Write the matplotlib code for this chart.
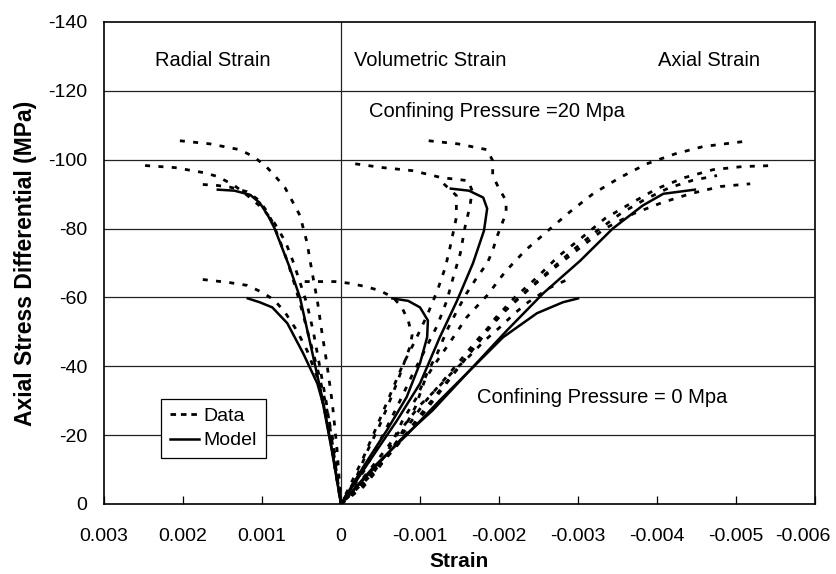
import numpy as np
import matplotlib
matplotlib.use('agg')
import matplotlib.pyplot as plt
from matplotlib.lines import Line2D
from matplotlib.ticker import FuncFormatter
from matplotlib.transforms import ScaledTranslation

plt.rcParams['font.family'] = ['Liberation Sans', 'DejaVu Sans']
plt.rcParams['axes.unicode_minus'] = False
plt.rcParams['lines.scale_dashes'] = False

# strain values in units of 1e-3, stress in MPa (compression negative)

# --- model curves ---
model_rad20_eps = [1.56, 1.35, 1.15, 1.03, 0.93, 0.84, 0.65, 0.52, 0.37, 0.23, 0.10, 0.0]
model_rad20_sig = [-91.3, -91.0, -89.8, -87.5, -84.0, -80.0, -68.7, -60.0, -44.6, -30.1, -14.0, 0.0]
model_rad0_eps = [1.18, 1.03, 0.87, 0.68, 0.48, 0.30, 0.23, 0.12, 0.0]
model_rad0_sig = [-59.7, -58.6, -57.1, -52.5, -43.8, -35.0, -29.3, -16.0, 0.0]
model_vol20_eps = [-1.39, -1.62, -1.80, -1.85, -1.81, -1.67, -1.47, -1.25, -1.00, -0.71, -0.37, 0.0]
model_vol20_sig = [-91.6, -91.0, -89.0, -85.8, -79.4, -69.9, -59.1, -48.4, -35.0, -24.3, -12.8, 0.0]
model_vol0_eps = [-0.65, -0.85, -1.00, -1.10, -1.09, -1.00, -0.83, -0.58, -0.28, 0.0]
model_vol0_sig = [-59.7, -59.0, -57.1, -53.3, -48.4, -40.9, -31.0, -21.4, -10.7, 0.0]
model_ax20_eps = [-4.48, -4.08, -3.82, -3.44, -3.03, -2.56, -2.10, -1.63, -1.16, -0.75, 0.0]
model_ax20_sig = [-91.3, -90.1, -86.7, -80.0, -70.7, -61.2, -50.4, -38.8, -27.2, -18.6, 0.0]
model_ax0_eps = [-3.00, -2.81, -2.48, -2.05, -1.67, -1.25, -0.83, -0.41, 0.0]
model_ax0_sig = [-59.7, -58.6, -55.4, -48.4, -39.7, -30.1, -20.0, -10.7, 0.0]

# --- test data, confining pressure 20 MPa ---
rad1_eps = [2.04, 1.66, 1.28, 1.11, 0.96, 0.84, 0.71, 0.62, 0.52, 0.43, 0.37, 0.30, 0.24, 0.18, 0.11, 0.05, 0.0]
rad1_sig = [-105.5, -104.6, -102.9, -100.9, -98.3, -95.4, -91.9, -88.1, -83.8, -75.9, -67.8, -59.1, -49.6, -40.9, -29.3, -15.7, 0.0]
rad2_eps = [2.48, 2.10, 1.73, 1.56, 1.35, 1.18, 1.00, 0.84, 0.70, 0.60, 0.50, 0.43, 0.35, 0.27, 0.19, 0.10, 0.0]
rad2_sig = [-98.3, -97.7, -96.2, -95.1, -92.5, -89.5, -86.0, -81.5, -76.0, -70.0, -63.0, -58.0, -50.0, -40.0, -30.0, -16.0, 0.0]
rad3_eps = [1.75, 1.56, 1.40, 1.19, 1.05, 0.96, 0.87, 0.77, 0.67, 0.58, 0.49, 0.39, 0.29, 0.20, 0.10, 0.0]
rad3_sig = [-92.8, -92.5, -92.0, -90.7, -88.4, -85.7, -82.0, -76.2, -69.9, -63.2, -55.9, -47.2, -38.5, -29.8, -18.3, 0.0]

vol1_eps = [-1.11, -1.48, -1.85, -1.92, -1.92, -2.00, -2.09, -2.09, -2.03, -1.97, -1.92, -1.85, -1.72, -1.59,
            -1.47, -1.34, -1.22, -1.09, -0.96, -0.78, -0.62, -0.41, 0.0]
vol1_sig = [-105.5, -104.6, -102.9, -99.7, -95.4, -91.6, -88.1, -84.6, -80.9, -77.4, -73.6, -69.9, -65.8, -61.2,
            -56.2, -50.4, -43.8, -38.0, -31.0, -24.3, -16.5, -9.0, 0.0]
vol2_eps = [-0.18, -0.53, -0.91, -1.27, -1.61, -1.66, -1.63, -1.58, -1.51, -1.42, -1.34, -1.22, -1.06, -0.90,
            -0.72, -0.53, -0.30, 0.0]
vol2_sig = [-98.8, -97.7, -96.8, -94.8, -93.9, -91.0, -86.1, -81.7, -72.8, -65.8, -59.1, -51.9, -44.6, -37.4,
            -28.7, -20.0, -9.9, 0.0]
vol3_eps = [-1.30, -1.46, -1.46, -1.38, -1.32, -1.22, -1.09, -0.94, -0.78, -0.62, -0.46, -0.27, 0.0]
vol3_sig = [-93.0, -89.6, -83.2, -74.5, -68.7, -62.0, -54.8, -47.5, -40.3, -31.6, -22.9, -12.8, 0.0]

ax1_eps = [0.0, -0.28, -0.46, -0.72, -0.94, -1.06, -1.16, -1.38, -1.59, -1.85, -2.08, -2.33, -2.62, -2.90,
           -3.19, -3.53, -3.87, -4.23, -4.58, -4.96, -5.18]
ax1_sig = [0.0, -4.9, -9.9, -18.6, -28.1, -35.9, -39.7, -47.0, -54.2, -60.6, -67.5, -73.6, -79.4, -84.9,
           -90.1, -94.8, -98.8, -101.7, -103.8, -104.9, -105.5]
ax2_eps = [0.0, -0.28, -0.52, -0.77, -1.00, -1.25, -1.51, -1.76, -1.95, -2.20, -2.48, -2.75, -3.05, -3.34,
           -3.66, -4.00, -4.35, -4.71, -5.08, -5.47]
ax2_sig = [0.0, -5.5, -11.9, -18.6, -25.8, -33.0, -40.3, -47.5, -53.9, -60.0, -65.8, -71.9, -77.4, -82.9,
           -87.2, -91.6, -94.8, -97.1, -98.0, -98.3]
ax3_eps = [0.0, -0.27, -0.56, -0.81, -1.06, -1.32, -1.51, -1.70, -1.89, -2.08, -2.39, -2.71, -3.03, -3.34,
           -3.70, -4.06, -4.42, -4.80, -5.18]
ax3_sig = [0.0, -5.5, -13.3, -21.4, -29.6, -36.5, -41.7, -47.0, -51.9, -56.2, -62.6, -68.7, -74.5, -80.0,
           -84.3, -87.5, -90.1, -92.2, -93.0]
ax4_eps = [0.0, -0.30, -0.55, -0.80, -1.05, -1.30, -1.55, -1.80, -2.05, -2.35, -2.65, -2.95, -3.25, -3.55,
           -3.85, -4.15, -4.45, -4.76]
ax4_sig = [0.0, -6.5, -13.0, -19.5, -26.5, -34.0, -41.5, -49.0, -55.5, -62.0, -68.0, -74.0, -79.5, -84.5,
           -88.5, -91.8, -94.0, -95.4]

# --- test data, confining pressure 0 MPa ---
rad0_eps = [1.75, 1.41, 1.19, 0.99, 0.84, 0.71, 0.56, 0.43, 0.30, 0.23, 0.14, 0.08, 0.0]
rad0_sig = [-65.2, -64.3, -63.5, -61.4, -59.1, -55.7, -50.4, -44.6, -36.8, -29.3, -20.6, -10.7, 0.0]
vol0_eps = [0.46, 0.27, 0.08, -0.11, -0.30, -0.49, -0.66, -0.77, -0.85, -0.90, -0.87, -0.81, -0.72, -0.62,
            -0.49, -0.34, -0.19, 0.0]
vol0_sig = [-64.6, -64.6, -64.6, -64.1, -63.2, -62.0, -60.0, -57.1, -53.3, -49.0, -45.5, -41.7, -35.9, -30.1,
            -22.9, -15.7, -7.5, 0.0]
ax0_eps = [-2.84, -2.65, -2.35, -2.20, -2.01, -1.82, -1.61, -1.41, -1.22, -1.00, -0.75, -0.49, -0.24, 0.0]
ax0_sig = [-64.9, -62.9, -58.3, -55.4, -51.3, -47.5, -42.6, -38.3, -33.6, -28.7, -21.4, -13.6, -6.4, 0.0]

data_curves = [(rad1_eps, rad1_sig), (rad2_eps, rad2_sig), (rad3_eps, rad3_sig),
               (vol1_eps, vol1_sig), (vol2_eps, vol2_sig), (vol3_eps, vol3_sig),
               (ax1_eps, ax1_sig), (ax2_eps, ax2_sig), (ax3_eps, ax3_sig), (ax4_eps, ax4_sig),
               (rad0_eps, rad0_sig), (vol0_eps, vol0_sig), (ax0_eps, ax0_sig)]
model_curves = [(model_rad20_eps, model_rad20_sig), (model_rad0_eps, model_rad0_sig),
                (model_vol20_eps, model_vol20_sig), (model_vol0_eps, model_vol0_sig),
                (model_ax20_eps, model_ax20_sig), (model_ax0_eps, model_ax0_sig)]

fig = plt.figure(figsize=(8.37, 5.74), dpi=100)
ax = fig.add_axes([0.1243, 0.122, 0.8494, 0.8397])

for yv in range(-20, -140, -20):
    ax.axhline(yv, color='#222222', lw=0.9, zorder=1)
ax.axvline(0, color='#222222', lw=0.9, zorder=1)

for e, s in data_curves:
    ax.plot(np.array(e) * 1e-3, s, color='black', lw=2.0, dashes=(3.6, 6.0), zorder=3)
for e, s in model_curves:
    ax.plot(np.array(e) * 1e-3, s, color='black', lw=1.8, zorder=4)

ax.set_xlim(0.003, -0.006)
ax.set_ylim(0, -140)
ax.set_xticks(np.linspace(0.003, -0.006, 10))
ax.set_yticks(range(0, -160, -20))
ax.xaxis.set_major_formatter(FuncFormatter(lambda v, p: '%g' % round(v, 4) if abs(v) > 1e-9 else '0'))
ax.tick_params(axis='x', direction='in', length=6, width=0.9, labelsize=14, pad=17)
ax.tick_params(axis='y', length=0, labelsize=14, pad=12)
for sp in ax.spines.values():
    sp.set_linewidth(1.2)

# last x tick label sits a little inside the figure edge, as in the original
last = ax.get_xticklabels()[-1]
last.set_transform(last.get_transform() + ScaledTranslation(-9 / 72, 0, fig.dpi_scale_trans))

ax.set_xlabel('Strain', fontsize=15, fontweight='bold', labelpad=5)
ax.set_ylabel('Axial Stress Differential (MPa)', fontsize=16.5, fontweight='bold', labelpad=8)

ax.text(0.00163, -128.7, 'Radial Strain', ha='center', va='center', fontsize=14.5)
ax.text(-0.00113, -128.7, 'Volumetric Strain', ha='center', va='center', fontsize=14.5)
ax.text(-0.00466, -128.7, 'Axial Strain', ha='center', va='center', fontsize=14.5)
ax.text(-0.00197, -113.9, 'Confining Pressure =20 Mpa', ha='center', va='center', fontsize=14.5)
ax.text(-0.00330, -31.0, 'Confining Pressure = 0 Mpa', ha='center', va='center', fontsize=14.5)

handles = [Line2D([], [], color='black', lw=2.0, dashes=(4.0, 3.5)),
           Line2D([], [], color='black', lw=1.8)]
leg = ax.legend(handles, ['Data', 'Model'], loc='lower left', bbox_to_anchor=(0.08, 0.095),
                frameon=True, fancybox=False, edgecolor='black', framealpha=1, fontsize=14,
                handlelength=1.5, borderpad=0.45, labelspacing=0.35, handletextpad=0.25, borderaxespad=0)
leg.get_frame().set_linewidth(0.9)

plt.savefig('out.png', dpi=100)
plt.close()
